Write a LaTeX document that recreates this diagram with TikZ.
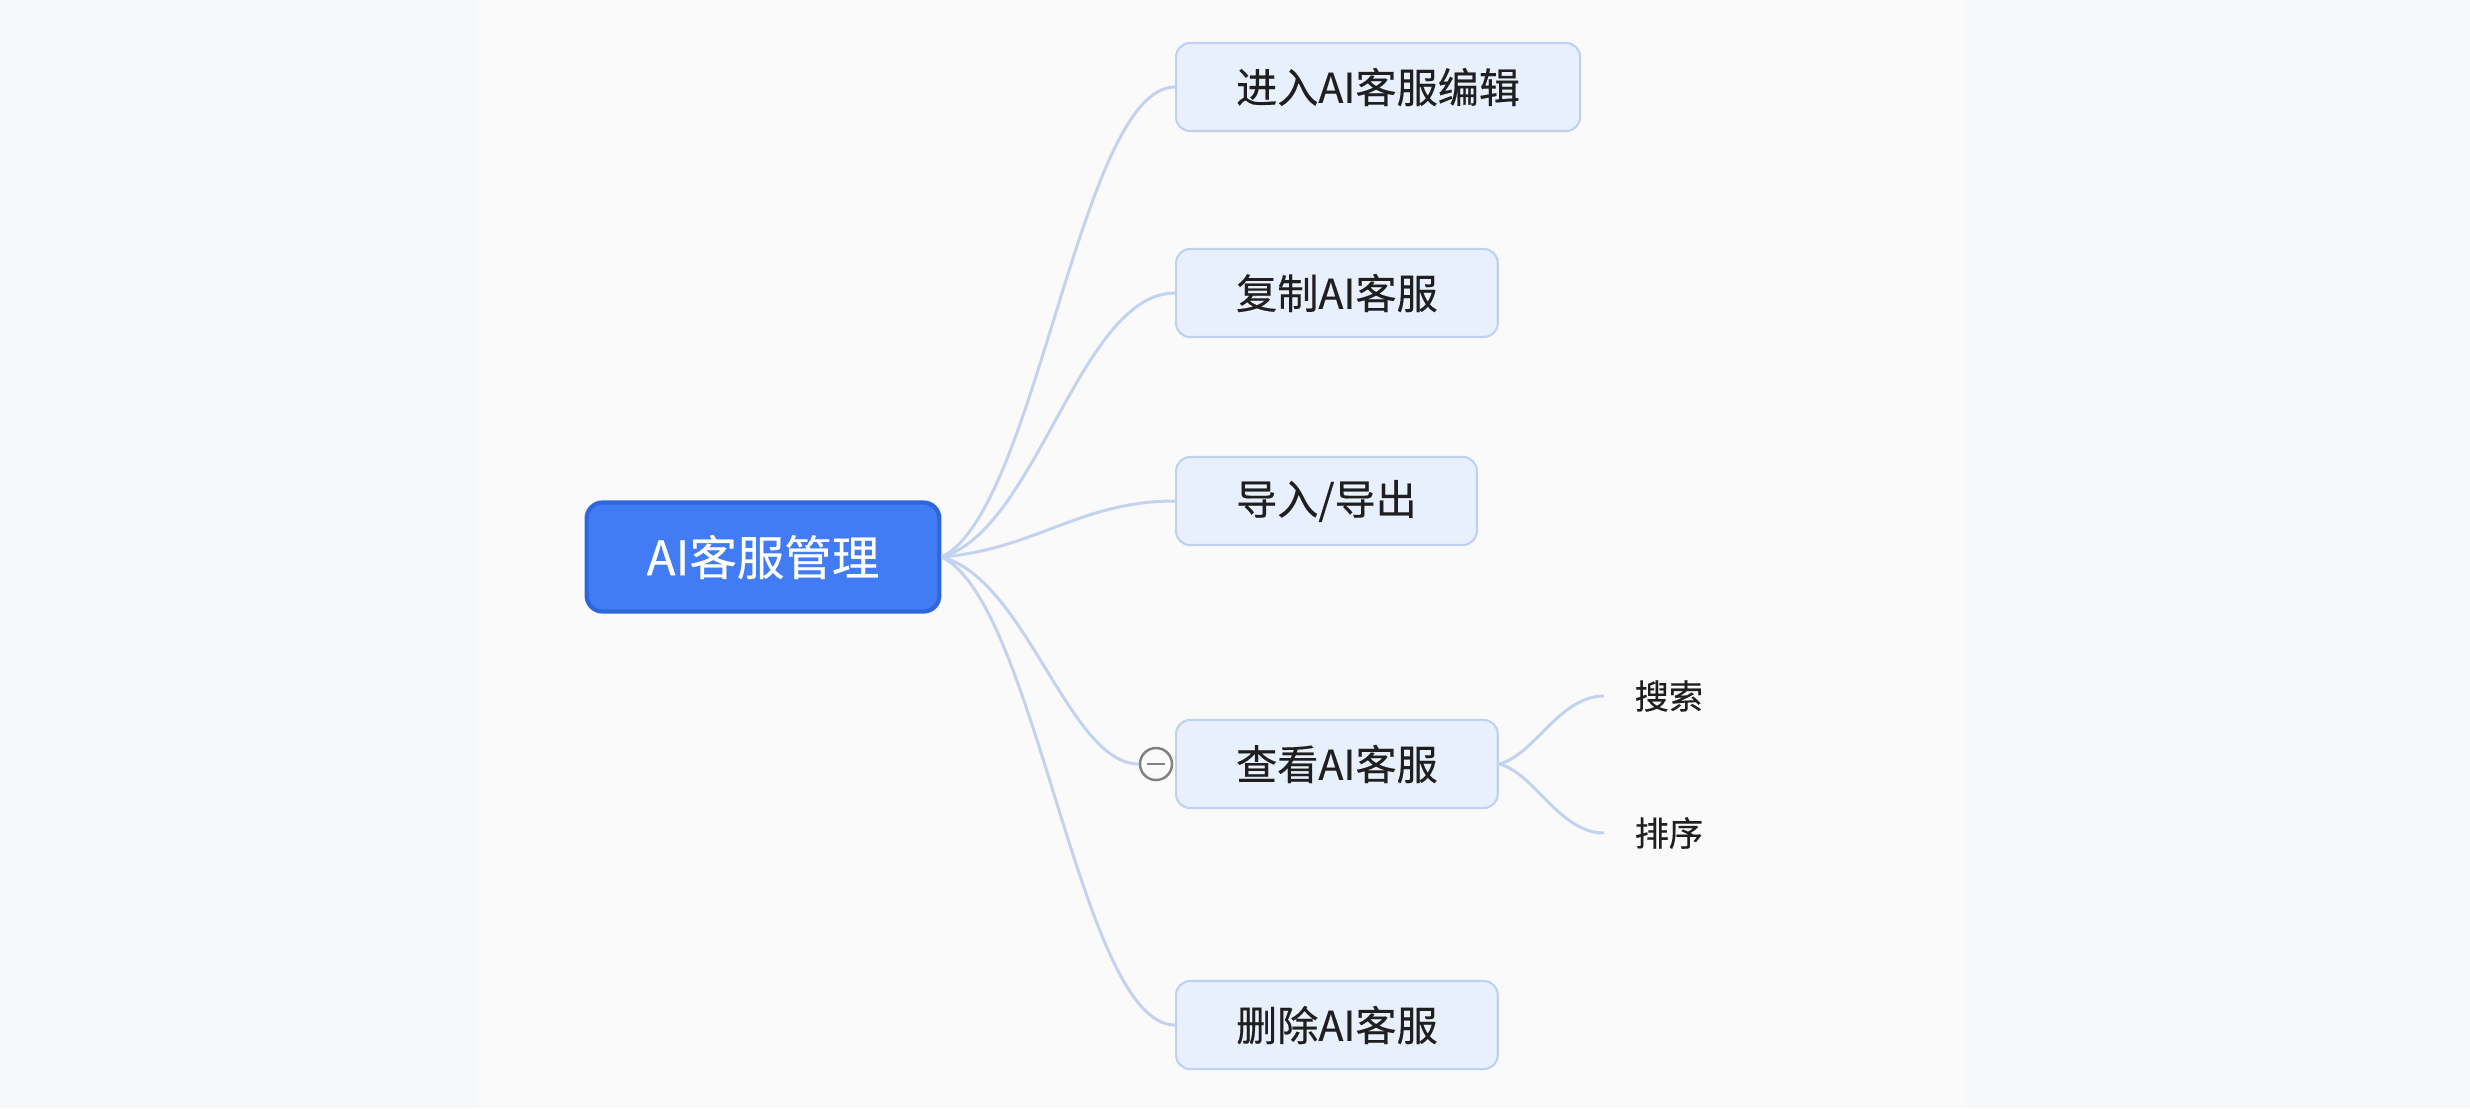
\documentclass[tikz,border=0pt]{standalone}
\usepackage{fontspec}
\newfontfamily\cjk[FakeBold=0.35]{Noto Sans CJK SC}
\usepackage{tikz}
\usepackage{xcolor}
\definecolor{PageGray}{HTML}{F7F8FA}
\definecolor{PanelWhite}{HTML}{FAFAFA}
\definecolor{RootBlue}{HTML}{417CF5}
\definecolor{RootEdge}{HTML}{2E67DC}
\definecolor{TopicFill}{HTML}{E9F0FD}
\definecolor{TopicEdge}{HTML}{BFD1F1}
\definecolor{LinkBlue}{HTML}{C3D3EF}
\definecolor{InkGray}{HTML}{1F1F1F}
\usetikzlibrary{positioning}

\begin{document}
\begin{tikzpicture}[x=0.01cm, y=-0.01cm, every node/.style={font=\cjk},
  rootbox/.style={rectangle, rounded corners=0.16cm, draw=RootEdge, line width=1.2pt, fill=RootBlue, text=white, font=\cjk\fontsize{13.5}{16}\selectfont, inner xsep=0.6cm, minimum height=1.09cm},
  topicbox/.style={rectangle, rounded corners=0.14cm, draw=TopicEdge, line width=0.6pt, fill=TopicFill, text=InkGray, font=\cjk\fontsize{11.7}{14}\selectfont, inner xsep=0.6cm, minimum height=0.88cm, anchor=west},
  leaf/.style={text=InkGray, font=\cjk\fontsize{9.7}{12}\selectfont, inner xsep=0.3cm, anchor=west},
  link/.style={LinkBlue, line width=0.85pt},
  foldmark/.style={circle, draw=gray, line width=0.7pt, fill=PanelWhite, minimum size=0.32cm, inner sep=0pt}
]
    % page and canvas
    \fill[PageGray] (0,0) rectangle (2470,1108);
    \fill[PanelWhite] (477,0) rectangle (1965,1108);
    \useasboundingbox (0,0) rectangle (2470,1108);

    \node[rootbox] (root) at (763,557) {AI客服管理};

    \node[topicbox] (edit) at (1175,87) {进入AI客服编辑};
    \node[topicbox] (copy) at (1175,293) {复制AI客服};
    \node[topicbox] (io) at (1175,501) {导入/导出};
    \node[topicbox] (view) at (1175,764) {查看AI客服};
    \node[topicbox] (del) at (1175,1025) {删除AI客服};

    \node[foldmark] (fold) at (1156,764) {};
    \draw[gray, line width=0.7pt] ([xshift=-0.09cm]fold.center) -- ([xshift=0.09cm]fold.center);

    \node[leaf] (search) at (1604,696) {搜索};
    \node[leaf] (sort) at (1604,833) {排序};

    % branches
    \draw[link] (root.east) .. controls +(95,-45) and +(-95,0) .. (edit.west);
    \draw[link] (root.east) .. controls +(95,-26) and +(-95,0) .. (copy.west);
    \draw[link] (root.east) .. controls +(95,-8) and +(-95,0) .. (io.west);
    \draw[link] (root.east) .. controls +(85,22) and +(-70,0) .. (fold.west);
    \draw[link] (root.east) .. controls +(95,45) and +(-95,0) .. (del.west);
    \draw[link] (view.east) .. controls +(35,-8) and +(-45,0) .. (search.west);
    \draw[link] (view.east) .. controls +(35,8) and +(-45,0) .. (sort.west);
\end{tikzpicture}
\end{document}
